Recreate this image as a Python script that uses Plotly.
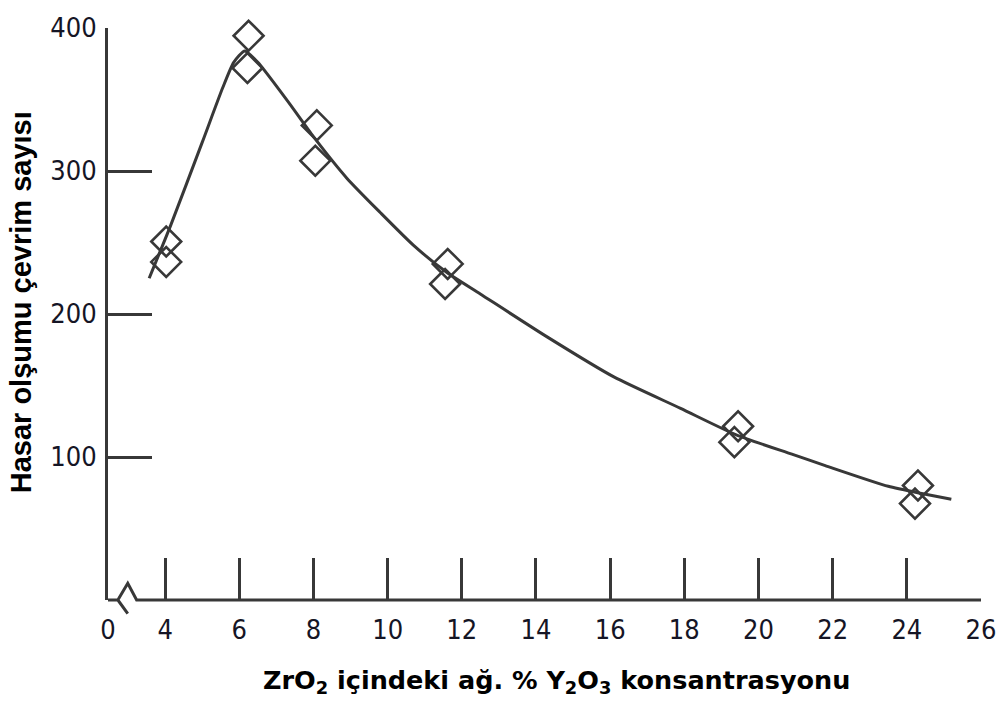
import plotly.graph_objects as go

# ---- data ----
x_upper = [4.03, 6.25, 8.09, 11.62, 19.45, 24.30]
y_upper = [250.7, 394.6, 331.9, 235.0, 121.5, 80.1]
x_lower = [4.03, 6.22, 8.05, 11.55, 19.35, 24.22]
y_lower = [236.4, 372.0, 307.2, 221.0, 110.4, 67.4]

curve_x = [3.57, 4.15, 5.0, 5.55, 5.85, 6.15, 6.5, 7.3, 8.0, 8.9, 9.8, 10.7, 11.6,
           12.5, 14.3, 16.1, 17.9, 19.4, 20.9, 21.8, 23.5, 24.4, 25.2]
curve_y = [225, 262, 320, 358, 376, 384, 376, 349, 324, 295, 271, 248, 229,
           214, 184, 156, 134, 115.5, 102, 94, 79.5, 74.5, 70.5]

x_tickvals = [2.46, 4, 6, 8, 10, 12, 14, 16, 18, 20, 22, 24, 26]
x_ticktext = ["0", "4", "6", "8", "10", "12", "14", "16", "18", "20", "22", "24", "26"]
y_tickvals = [100, 200, 300, 400]

X_RANGE = [2.46, 26.0]
Y_RANGE = [0, 400]

# axis break (data coordinates) -> drawn in paper coords so it is not clipped
break_pts = [(2.46, 0), (2.726, 0), (2.993, 11.7), (3.232, 0), (26.0, 0)]
break_tail = [(2.726, 0), (2.993, -9.5)]

INK = "#383838"
TXT = "#151525"
TICKFONT = "DejaVu Sans Condensed, Liberation Sans Narrow, Arial Narrow, sans-serif"


def to_paper(x, y):
    return ((x - X_RANGE[0]) / (X_RANGE[1] - X_RANGE[0]),
            (y - Y_RANGE[0]) / (Y_RANGE[1] - Y_RANGE[0]))


def path_of(pts):
    s = ""
    for i, (x, y) in enumerate(pts):
        px, py = to_paper(x, y)
        s += ("M" if i == 0 else "L") + f"{px:.5f},{py:.5f} "
    return s


fig = go.Figure()

fig.add_trace(go.Scatter(
    x=curve_x, y=curve_y, mode="lines",
    line=dict(color=INK, width=3, shape="spline", smoothing=0.6),
    hoverinfo="skip", showlegend=False, cliponaxis=False))

fig.add_trace(go.Scatter(
    x=x_upper + x_lower, y=y_upper + y_lower, mode="markers",
    marker=dict(symbol="diamond-open", size=23, color=INK,
                line=dict(color=INK, width=2.6)),
    showlegend=False, cliponaxis=False))

fig.add_shape(type="path", xref="paper", yref="paper",
              path=path_of(break_pts) + path_of(break_tail),
              line=dict(color=INK, width=3))

fig.update_layout(
    width=1008, height=718,
    margin=dict(l=108, r=16, t=20, b=118),
    paper_bgcolor="white", plot_bgcolor="white",
    xaxis=dict(range=X_RANGE, showgrid=False, zeroline=False, showline=False,
               tickmode="array", tickvals=x_tickvals, ticktext=x_ticktext,
               ticks="inside", ticklen=42, tickwidth=3, tickcolor=INK,
               ticklabelstandoff=11,
               tickfont=dict(family=TICKFONT, size=27, color=TXT)),
    yaxis=dict(range=Y_RANGE, showgrid=False, zeroline=False, showline=True,
               linecolor=INK, linewidth=3,
               tickmode="array", tickvals=y_tickvals,
               ticks="inside", ticklen=44, tickwidth=3, tickcolor=INK,
               ticklabelstandoff=3,
               tickfont=dict(family=TICKFONT, size=27, color=TXT)),
)

fig.add_annotation(
    text="ZrO<sub>2</sub> içindeki ağ. % Y<sub>2</sub>O<sub>3</sub> konsantrasyonu",
    xref="paper", yref="paper", x=(562 - 108) / 884, y=(600 - 683) / 580,
    xanchor="center", yanchor="middle", showarrow=False,
    font=dict(family="DejaVu Sans, Verdana, sans-serif", size=25.5, color="#000000", weight="bold"))

fig.add_annotation(
    text="Hasar olşumu çevrim sayısı",
    xref="paper", yref="paper", x=(20 - 108) / 884, y=(600 - 298) / 580,
    xanchor="center", yanchor="middle", textangle=-90, showarrow=False,
    font=dict(family="Liberation Sans, Arial, sans-serif", size=29, color="#000000", weight="bold"))

fig.write_html("out.html")
